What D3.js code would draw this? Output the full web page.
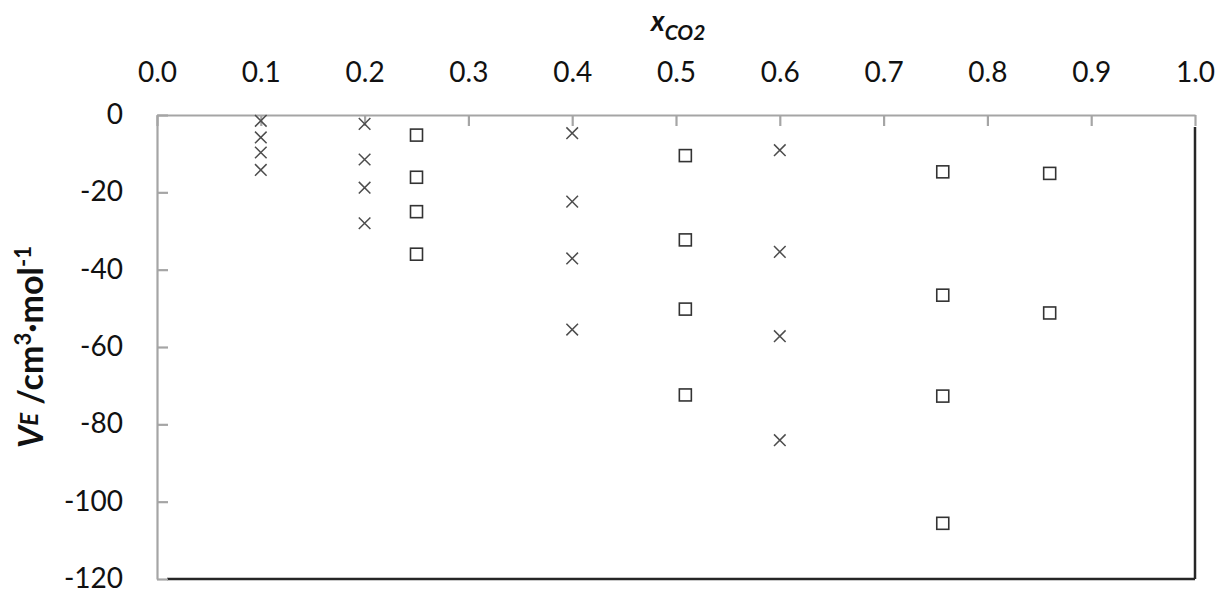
<!DOCTYPE html>
<html>
<head>
<meta charset="utf-8">
<script src="https://cdn.jsdelivr.net/npm/d3@7"></script>
<style>
  html, body { margin: 0; padding: 0; background: #fff; }
  svg { display: block; }
  .tick text { font-family: Lato, "Open Sans", sans-serif; font-size: 28px; fill: #111; }
</style>
</head>
<body>
<svg id="chart" width="1221" height="591"></svg>
<script>
// Excess molar volume of CO2 mixtures, two measurement sets
const crossX = [0.1, 0.1, 0.1, 0.1, 0.2, 0.2, 0.2, 0.2, 0.4, 0.4, 0.4, 0.4, 0.6, 0.6, 0.6, 0.6];
const crossV = [-1.5, -5.8, -9.7, -14.2, -2.3, -11.5, -18.8, -28.0, -4.7, -22.4, -37.1, -55.5, -9.1, -35.4, -57.2, -84.1];
const squareX = [0.25, 0.25, 0.25, 0.25, 0.509, 0.509, 0.509, 0.509, 0.757, 0.757, 0.757, 0.757, 0.86, 0.86];
const squareV = [-5.2, -16.1, -25.0, -36.0, -10.5, -32.3, -50.2, -72.4, -14.7, -46.6, -72.7, -105.6, -15.1, -51.2];
const xTicks = [0, 0.1, 0.2, 0.3, 0.4, 0.5, 0.6, 0.7, 0.8, 0.9, 1.0];
const yTicks = [0, -20, -40, -60, -80, -100, -120];

const svg = d3.select("#chart");
const plotLeft = 157, plotRight = 1195, plotTop = 115, plotBottom = 579;

const x = d3.scaleLinear().domain([0, 1]).range([plotLeft, plotRight]);
const y = d3.scaleLinear().domain([-120, 0]).range([plotBottom, plotTop]);

const axisGrey = "#a5a5a5";
const frameDark = "#262626";

// dark bottom and right frame edges
svg.append("line")
  .attr("x1", x(0) + 10).attr("x2", x(1))
  .attr("y1", y(-120)).attr("y2", y(-120))
  .attr("stroke", frameDark).attr("stroke-width", 2.5);
svg.append("line")
  .attr("x1", x(1)).attr("x2", x(1))
  .attr("y1", y(0) + 12).attr("y2", y(-120))
  .attr("stroke", frameDark).attr("stroke-width", 2.5);

// top axis (ticks pointing into the plot)
const gx = svg.append("g")
  .attr("transform", `translate(0,${plotTop})`)
  .call(d3.axisTop(x).tickValues(xTicks).tickFormat(d => d.toFixed(1))
    .tickSizeInner(-11).tickSizeOuter(0).tickPadding(33));
gx.select(".domain").attr("stroke", axisGrey).attr("stroke-width", 2.2);
gx.selectAll(".tick line").attr("stroke", axisGrey).attr("stroke-width", 2.2);
gx.selectAll(".tick text").attr("dy", "0em");

// left axis (ticks pointing into the plot), plain hyphen for negatives
const gy = svg.append("g")
  .attr("transform", `translate(${plotLeft},0)`)
  .call(d3.axisLeft(y).tickValues(yTicks).tickFormat(d => String(d))
    .tickSizeInner(-11).tickSizeOuter(0).tickPadding(34));
gy.select(".domain").attr("stroke", axisGrey).attr("stroke-width", 2.2);
gy.selectAll(".tick line").attr("stroke", axisGrey).attr("stroke-width", 2.2);
gy.selectAll(".tick text").attr("dy", "0.3em");

// cross markers
const c = 5.8;
const crosses = svg.append("g").attr("stroke", "#4d4d4d").attr("stroke-width", 1.5).attr("fill", "none");
crossX.forEach((xv, i) => {
  const cx = x(xv), cy = y(crossV[i]);
  crosses.append("path")
    .attr("d", `M${cx - c},${cy - c}L${cx + c},${cy + c}M${cx - c},${cy + c}L${cx + c},${cy - c}`);
});

// open square markers
const s = 12;
svg.append("g")
  .selectAll("rect")
  .data(squareX.map((xv, i) => ({ xv, v: squareV[i] })))
  .join("rect")
  .attr("x", d => x(d.xv) - s / 2)
  .attr("y", d => y(d.v) - s / 2)
  .attr("width", s).attr("height", s)
  .attr("fill", "#fff").attr("stroke", "#333").attr("stroke-width", 1.6);

// axis titles
const xt = svg.append("text")
  .attr("x", 651).attr("y", 31)
  .attr("font-family", "Lato, 'Open Sans', sans-serif")
  .attr("font-weight", "bold").attr("font-style", "italic")
  .attr("font-size", 28).attr("fill", "#111");
xt.append("tspan").text("x");
xt.append("tspan").attr("font-size", 21).attr("dy", 9).text("CO2");

const yt = svg.append("text")
  .attr("transform", "translate(43,347) rotate(-90)")
  .attr("text-anchor", "middle")
  .attr("font-family", "Lato, 'Open Sans', sans-serif")
  .attr("font-weight", "bold")
  .attr("font-size", 34).attr("fill", "#111");
yt.append("tspan").attr("font-style", "italic").text("V");
yt.append("tspan").attr("font-style", "italic").attr("font-size", 24).attr("dy", -5).text("E");
yt.append("tspan").attr("dy", 5).text(" /cm");
yt.append("tspan").attr("font-size", 22).attr("dy", -12).text("3");
yt.append("tspan").attr("dy", 12).text("·mol");
yt.append("tspan").attr("font-size", 22).attr("dy", -12).text("-1");
</script>
</body>
</html>
